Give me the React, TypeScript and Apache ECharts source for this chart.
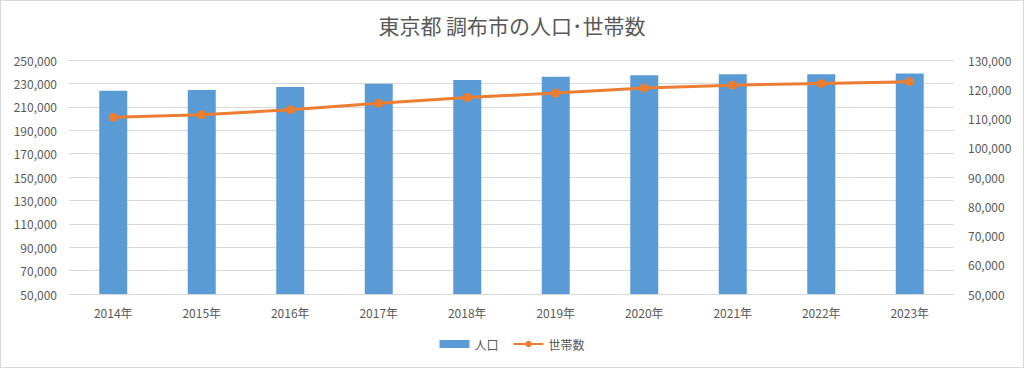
import React, { useEffect, useRef } from "react";
import * as echarts from "echarts";

const years = ["2014年", "2015年", "2016年", "2017年", "2018年", "2019年", "2020年", "2021年", "2022年", "2023年"];
const population = [223700, 224300, 226900, 229700, 232800, 235600, 237000, 237900, 237900, 238400];
const households = [110400, 111300, 113000, 115200, 117200, 118700, 120400, 121400, 122000, 122600];

const FONT = "'Noto Sans CJK JP', 'Noto Sans', sans-serif";
const TXT = "#595959";

export default function App() {
  const ref = useRef<HTMLDivElement>(null);
  useEffect(() => {
    if (!ref.current) return;
    const chart = echarts.init(ref.current, undefined, { renderer: "svg" });
    const fmt = (v: number) => v.toLocaleString("en-US");
    chart.setOption({
      animation: false,
      backgroundColor: "#ffffff",
      textStyle: { fontFamily: FONT },
      title: {
        text: "東京都 調布市の人口･世帯数",
        left: "center",
        top: 8,
        textStyle: { fontSize: 21, fontWeight: "normal", color: TXT, fontFamily: FONT },
      },
      legend: {
        bottom: 12,
        left: "center",
        itemWidth: 30,
        itemHeight: 8,
        itemGap: 14,
        textStyle: { color: TXT, fontSize: 12, fontFamily: FONT },
        data: [
          { name: "人口", icon: "rect" },
          { name: "世帯数" },
        ],
      },
      grid: { left: 68, right: 69, top: 59, bottom: 73 },
      xAxis: {
        type: "category",
        data: years,
        axisLine: { lineStyle: { color: "#d9d9d9" } },
        axisTick: { show: false },
        axisLabel: { color: TXT, fontSize: 12, margin: 12, fontFamily: FONT },
      },
      yAxis: [
        {
          type: "value",
          min: 50000,
          max: 250000,
          interval: 20000,
          axisLine: { show: false },
          axisTick: { show: false },
          splitLine: { lineStyle: { color: "#d9d9d9" } },
          axisLabel: { color: TXT, fontSize: 12, margin: 12, formatter: fmt, fontFamily: FONT },
        },
        {
          type: "value",
          min: 50000,
          max: 130000,
          interval: 10000,
          axisLine: { show: false },
          axisTick: { show: false },
          splitLine: { show: false },
          axisLabel: { color: TXT, fontSize: 12, margin: 14, formatter: fmt, fontFamily: FONT },
        },
      ],
      series: [
        {
          name: "人口",
          type: "bar",
          data: population,
          barWidth: 28,
          itemStyle: { color: "#5b9bd5" },
        },
        {
          name: "世帯数",
          type: "line",
          yAxisIndex: 1,
          data: households,
          symbol: "circle",
          symbolSize: 9,
          lineStyle: { color: "#ed7d31", width: 3 },
          itemStyle: { color: "#ed7d31" },
        },
      ],
    });
    return () => chart.dispose();
  }, []);
  return (
    <div
      style={{
        position: "fixed",
        left: 0,
        top: 0,
        width: 1024,
        height: 368,
        boxSizing: "border-box",
        border: "1px solid #d9d9d9",
        background: "#fff",
      }}
    >
      <div ref={ref} style={{ width: 1022, height: 366 }} />
    </div>
  );
}
